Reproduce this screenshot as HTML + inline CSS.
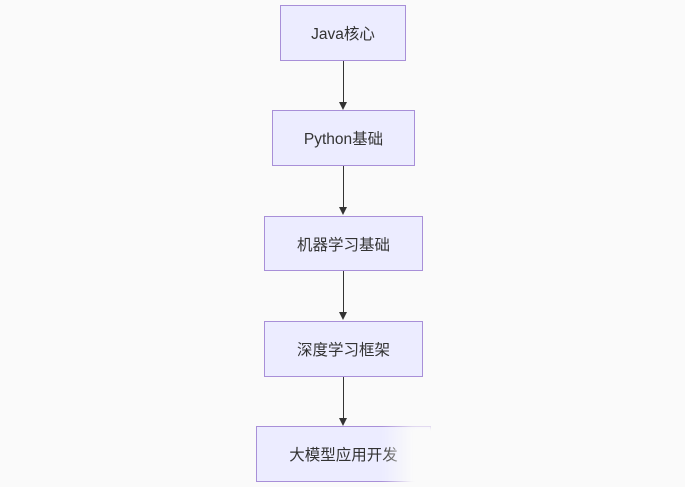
<!DOCTYPE html>
<html><head><meta charset="utf-8"><style>
body{margin:0;width:685px;height:487px;background:#fafafa;position:relative;overflow:hidden;font-family:"Liberation Sans","Noto Sans CJK SC",sans-serif}
.b{position:absolute;background:#ececff;border:1px solid #a88fd8;box-sizing:border-box;display:flex;align-items:center;justify-content:center;font-size:15.5px;color:#333}
.l{position:absolute;left:343px;width:1px;background:#333}
.a{position:absolute;left:339px;width:0;height:0;border-left:4.5px solid transparent;border-right:4.5px solid transparent;border-top:8px solid #333}
</style></head><body>
<div class="b" style="left:280px;top:5px;width:126px;height:56px">Java核心</div>
<div class="b" style="left:272px;top:110px;width:143px;height:56px">Python基础</div>
<div class="b" style="left:264px;top:216px;width:159px;height:55px">机器学习基础</div>
<div class="b" style="left:264px;top:321px;width:159px;height:56px">深度学习框架</div>
<div class="b" style="left:256px;top:426px;width:175px;height:56px">大模型应用开发</div>
<div class="l" style="top:61px;height:42px"></div><div class="a" style="top:102px"></div>
<div class="l" style="top:166px;height:42px"></div><div class="a" style="top:207px"></div>
<div class="l" style="top:271px;height:42px"></div><div class="a" style="top:312px"></div>
<div class="l" style="top:377px;height:42px"></div><div class="a" style="top:418px"></div>
<svg style="position:absolute;left:0;top:0" width="685" height="487"><defs><linearGradient id="g" x1="0" y1="0" x2="1" y2="0"><stop offset="0" stop-color="#fafafa" stop-opacity="0"/><stop offset="0.25" stop-color="#fafafa" stop-opacity="1"/></linearGradient><filter id="f"><feGaussianBlur stdDeviation="3"/></filter></defs><polygon points="382,425 440,425 505,490 382,490" fill="url(#g)" filter="url(#f)"/></svg>
</body></html>
